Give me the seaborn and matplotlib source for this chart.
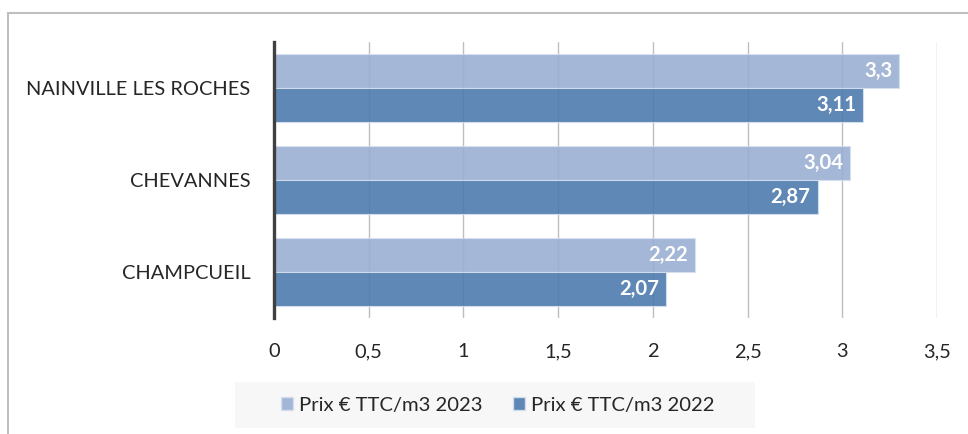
import matplotlib
matplotlib.use("Agg")
import matplotlib.pyplot as plt
import matplotlib.patches as mpatches
import seaborn as sns
import pandas as pd

categories = ["NAINVILLE LES ROCHES", "CHEVANNES", "CHAMPCUEIL"]
series_names = ["Prix € TTC/m3 2023", "Prix € TTC/m3 2022"]
values_2023 = [3.3, 3.04, 2.22]
values_2022 = [3.11, 2.87, 2.07]
x_ticks = [0, 0.5, 1, 1.5, 2, 2.5, 3, 3.5]
x_tick_labels = ["0", "0,5", "1", "1,5", "2", "2,5", "3", "3,5"]

df = pd.DataFrame({
    "commune": categories * 2,
    "serie": [series_names[0]] * 3 + [series_names[1]] * 3,
    "prix": values_2023 + values_2022,
})

sns.set_theme(style="white")
plt.rcParams["font.family"] = ["Lato", "DejaVu Sans"]

colors = ["#9AAFD3", "#4E7BAE"]
fig = plt.figure(figsize=(9.68, 4.34), dpi=100)
ax = fig.add_axes([274/968, 1-318/434, (937-274)/968, (318-42)/434])

sns.barplot(data=df, y="commune", x="prix", hue="serie", hue_order=series_names,
            order=categories, palette=colors, orient="h", width=0.74, saturation=1,
            edgecolor="#D6E0EF", linewidth=0.8, alpha=0.9, ax=ax, legend=False)

ax.set_xlim(0, 3.5)
ax.set_ylim(2.5, -0.5)
ax.set_xticks(x_ticks)
ax.set_xticklabels(x_tick_labels)
ax.set_xlabel("")
ax.set_ylabel("")
ax.grid(axis="x", color="#BFBFBF", linewidth=1.0)
ax.set_axisbelow(True)
for s in ["top", "right", "bottom"]:
    ax.spines[s].set_visible(False)
ax.spines["left"].set_color("#404040")
ax.spines["left"].set_linewidth(2.4)
ax.tick_params(axis="y", length=0, pad=17, labelsize=14.4, labelcolor="#262626")
ax.tick_params(axis="x", length=0, pad=18, labelsize=14.4, labelcolor="#262626")

for cont in ax.containers:
    for bar in cont:
        w = bar.get_width()
        yc = bar.get_y() + bar.get_height() / 2
        ax.annotate(f"{w:g}".replace(".", ","), xy=(w, yc), xytext=(-5, 0),
                    textcoords="offset points", ha="right", va="center",
                    color="white", fontweight="bold", fontsize=14.6)

# legend background box
fig.patches.append(mpatches.Rectangle((235/968, 1-428/434), (755-235)/968, 46/434,
                                      transform=fig.transFigure, facecolor="#F7F7F7",
                                      edgecolor="none", zorder=0))

handles = [mpatches.Patch(facecolor=c, edgecolor="#D6E0EF", alpha=0.9) for c in colors]
leg = fig.legend(handles, series_names, loc="center", bbox_to_anchor=(498/968, 1-405/434),
                 ncol=2, frameon=False, fontsize=14.6, handlelength=0.6, handleheight=0.6,
                 handletextpad=0.3, columnspacing=1.5, borderpad=0.5,
                 labelcolor="#262626")

fig.patches.append(mpatches.Rectangle((8/968, -0.1), 1.2, 0.1 + 1 - 13/434,
                                      transform=fig.transFigure, fill=False,
                                      edgecolor="#BFBFBF", linewidth=1.5))

fig.savefig("out.png", dpi=100)
